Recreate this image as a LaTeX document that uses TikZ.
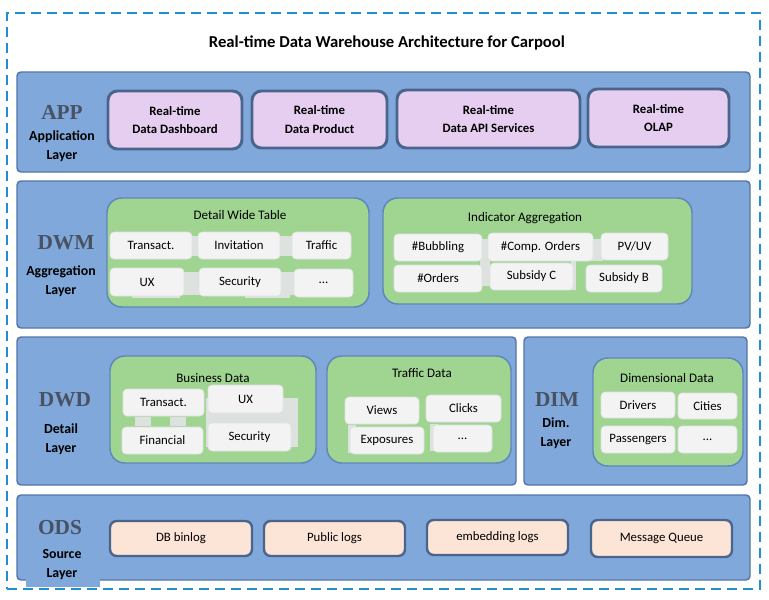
\documentclass[tikz,border=0pt]{standalone}
\usepackage{fontspec}
\setmainfont{Carlito}
\newfontfamily\serifabbr{Liberation Serif}
\definecolor{layerfill}{RGB}{128,168,219}
\definecolor{layerborder}{RGB}{84,118,170}
\definecolor{appfill}{RGB}{229,206,240}
\definecolor{appborder}{RGB}{74,100,140}
\definecolor{grpfill}{RGB}{160,213,145}
\definecolor{grpborder}{RGB}{95,135,185}
\definecolor{wfill}{RGB}{243,243,243}
\definecolor{wborder}{RGB}{222,224,226}
\definecolor{srcfill}{RGB}{252,228,214}
\definecolor{abbrcol}{RGB}{72,82,98}
\definecolor{dashblue}{RGB}{34,143,206}
\definecolor{ghost}{RGB}{222,226,222}
\newcommand\bx[7]{\node[#1, minimum width={(#5-#3)*0.75pt}, minimum height={(#6-#4)*0.75pt}] (#2) at ({(#3+#5)/2},{(#4+#6)/2}) {#7};}
\begin{document}
\begin{tikzpicture}[x=0.75pt,y=-0.75pt,
  layer/.style={draw=layerborder, fill=layerfill, line width=1.1pt, rounded corners=3pt, inner sep=0pt},
  appbox/.style={draw=appborder, fill=appfill, line width=2.2pt, rounded corners=7pt, inner sep=0pt, align=center, font=\fontsize{9.6}{14}\selectfont\bfseries},
  grp/.style={draw=grpborder, fill=grpfill, line width=1.1pt, rounded corners=11pt, inner sep=0pt},
  wbox/.style={fill=wfill, draw=wborder, line width=0.4pt, rounded corners=3pt, inner sep=0pt, font=\fontsize{9.6}{11}\selectfont},
  srcbox/.style={draw=appborder, fill=srcfill, line width=1.8pt, rounded corners=5pt, inner sep=0pt, font=\fontsize{9.6}{11}\selectfont},
  abbr/.style={font=\serifabbr\bfseries\fontsize{16}{18}\selectfont, text=abbrcol, inner sep=0pt},
  lname/.style={font=\fontsize{10.4}{14.2}\selectfont\bfseries, align=center, inner sep=0pt},
  gtitle/.style={font=\fontsize{9.8}{11}\selectfont, inner sep=0pt},
  ghostbox/.style={fill=ghost, draw=none}
]
\useasboundingbox (0,0) rectangle (769,600);
\fill[white] (0,0) rectangle (769,600);

% outer dashed frame
\bx{draw=dashblue, line width=1.6pt, dash pattern=on 7.5pt off 4.5pt, inner sep=0pt}{frame}{7}{13}{760}{589}{}
\node[font=\fontsize{12.5}{15}\selectfont\bfseries, inner sep=0pt] (title) at (387,43) {Real-time Data Warehouse Architecture for Carpool};

% ---------- layers ----------
\bx{layer}{appL}{17}{72}{750}{172}{}
\bx{layer}{dwmL}{17}{181}{750}{328}{}
\bx{layer}{dwdL}{17}{337}{516}{485}{}
\bx{layer}{dimL}{524}{337}{747}{485}{}
\bx{layer}{odsL}{17}{495}{750}{580}{}
\fill[layerfill] (26,562) rectangle (100,587);

% ---------- layer labels ----------
\node[abbr] (appA) at (62,112) {APP};
\node[lname] (appN) at (62,146) {Application\\Layer};
\node[abbr] (dwmA) at (66,243) {DWM};
\node[lname] (dwmN) at (61,281) {Aggregation\\Layer};
\node[abbr] (dwdA) at (65,400) {DWD};
\node[lname] (dwdN) at (61,439) {Detail\\Layer};
\node[abbr] (dimA) at (557,400) {DIM};
\node[lname] (dimN) at (556,433) {Dim.\\Layer};
\node[abbr] (odsA) at (60,528) {ODS};
\node[lname] (odsN) at (62,565) {Source\\Layer};

% ---------- APP ----------
\bx{appbox}{a1}{108}{91}{242}{149}{Real-time\\Data Dashboard}
\bx{appbox}{a2}{252}{91}{387}{148}{Real-time\\Data Product}
\bx{appbox}{a3}{397}{90}{580}{148}{Real-time\\Data API Services}
\bx{appbox}{a4}{588}{89}{729}{147}{Real-time\\OLAP}

% ---------- DWM ----------
\bx{grp}{gWide}{107}{198}{369}{307}{}
\node[gtitle] (tWide) at (240,215) {Detail Wide Table};
\fill[ghostbox] (190,236) rectangle (200,256);
\fill[ghostbox] (278,236) rectangle (294,256);
\fill[ghostbox] (182,272) rectangle (201,295);
\fill[ghostbox] (279,272) rectangle (296,295);
\fill[ghostbox] (132,294) rectangle (180,298);
\fill[ghostbox] (245,294) rectangle (290,298);
\bx{wbox}{w1}{110}{232}{192}{259}{Transact.}
\bx{wbox}{w2}{198}{232}{280}{259}{Invitation}
\bx{wbox}{w3}{292}{232}{351}{259}{Traffic}
\bx{wbox}{w4}{110}{268}{184}{296}{UX}
\bx{wbox}{w5}{199}{268}{281}{296}{Security}
\bx{wbox}{w6}{294}{269}{353}{297}{...}

\bx{grp}{gInd}{383}{198}{692}{304}{}
\node[gtitle] (tInd) at (525,218) {Indicator Aggregation};
\fill[ghostbox] (480,239) rectangle (490,286);
\fill[ghostbox] (591,239) rectangle (603,261);
\fill[ghostbox] (571,252) rectangle (576,290);
\bx{wbox}{i1}{394}{234}{482}{261}{\#Bubbling}
\bx{wbox}{i2}{488}{233}{593}{261}{\#Comp. Orders}
\bx{wbox}{i3}{601}{233}{668}{260}{PV/UV}
\bx{wbox}{i4}{394}{265}{482}{292}{\#Orders}
\bx{wbox}{i5}{490}{263}{573}{290}{Subsidy C}
\bx{wbox}{i6}{586}{265}{662}{292}{Subsidy B}

% ---------- DWD ----------
\bx{grp}{gBus}{110}{356}{316}{463}{}
\node[gtitle] (tBus) at (213,378) {Business Data};
\fill[ghostbox] (206,398) rectangle (298,447);
\fill[ghostbox] (135,417) rectangle (151,426);
\fill[ghostbox] (170,417) rectangle (186,426);
\bx{wbox}{b1}{123}{389}{204}{416}{Transact.}
\bx{wbox}{b2}{208}{385}{283}{413}{UX}
\bx{wbox}{b3}{122}{427}{203}{454}{Financial}
\bx{wbox}{b4}{208}{423}{291}{451}{Security}

\bx{grp}{gTra}{327}{356}{511}{463}{}
\node[gtitle] (tTra) at (422,373) {Traffic Data};
\fill[ghostbox] (348,425) rectangle (356,453);
\fill[ghostbox] (430,424) rectangle (438,451);
\bx{wbox}{t1}{345}{397}{419}{424}{Views}
\bx{wbox}{t2}{426}{395}{501}{422}{Clicks}
\bx{wbox}{t3}{350}{427}{424}{454}{Exposures}
\bx{wbox}{t4}{433}{425}{492}{452}{...}

% ---------- DIM ----------
\bx{grp}{gDim}{593}{358}{743}{466}{}
\node[gtitle] (tDim) at (667,378) {Dimensional Data};
\bx{wbox}{d1}{601}{392}{675}{418}{Drivers}
\bx{wbox}{d2}{678}{393}{737}{419}{Cities}
\bx{wbox}{d3}{601}{426}{675}{453}{Passengers}
\bx{wbox}{d4}{678}{426}{737}{453}{...}

% ---------- ODS ----------
\bx{srcbox}{s1}{110}{521}{252}{556}{DB binlog}
\bx{srcbox}{s2}{264}{521}{405}{556}{Public logs}
\bx{srcbox}{s3}{427}{520}{568}{555}{embedding logs}
\bx{srcbox}{s4}{591}{520}{732}{557}{Message Queue}
\end{tikzpicture}
\end{document}
